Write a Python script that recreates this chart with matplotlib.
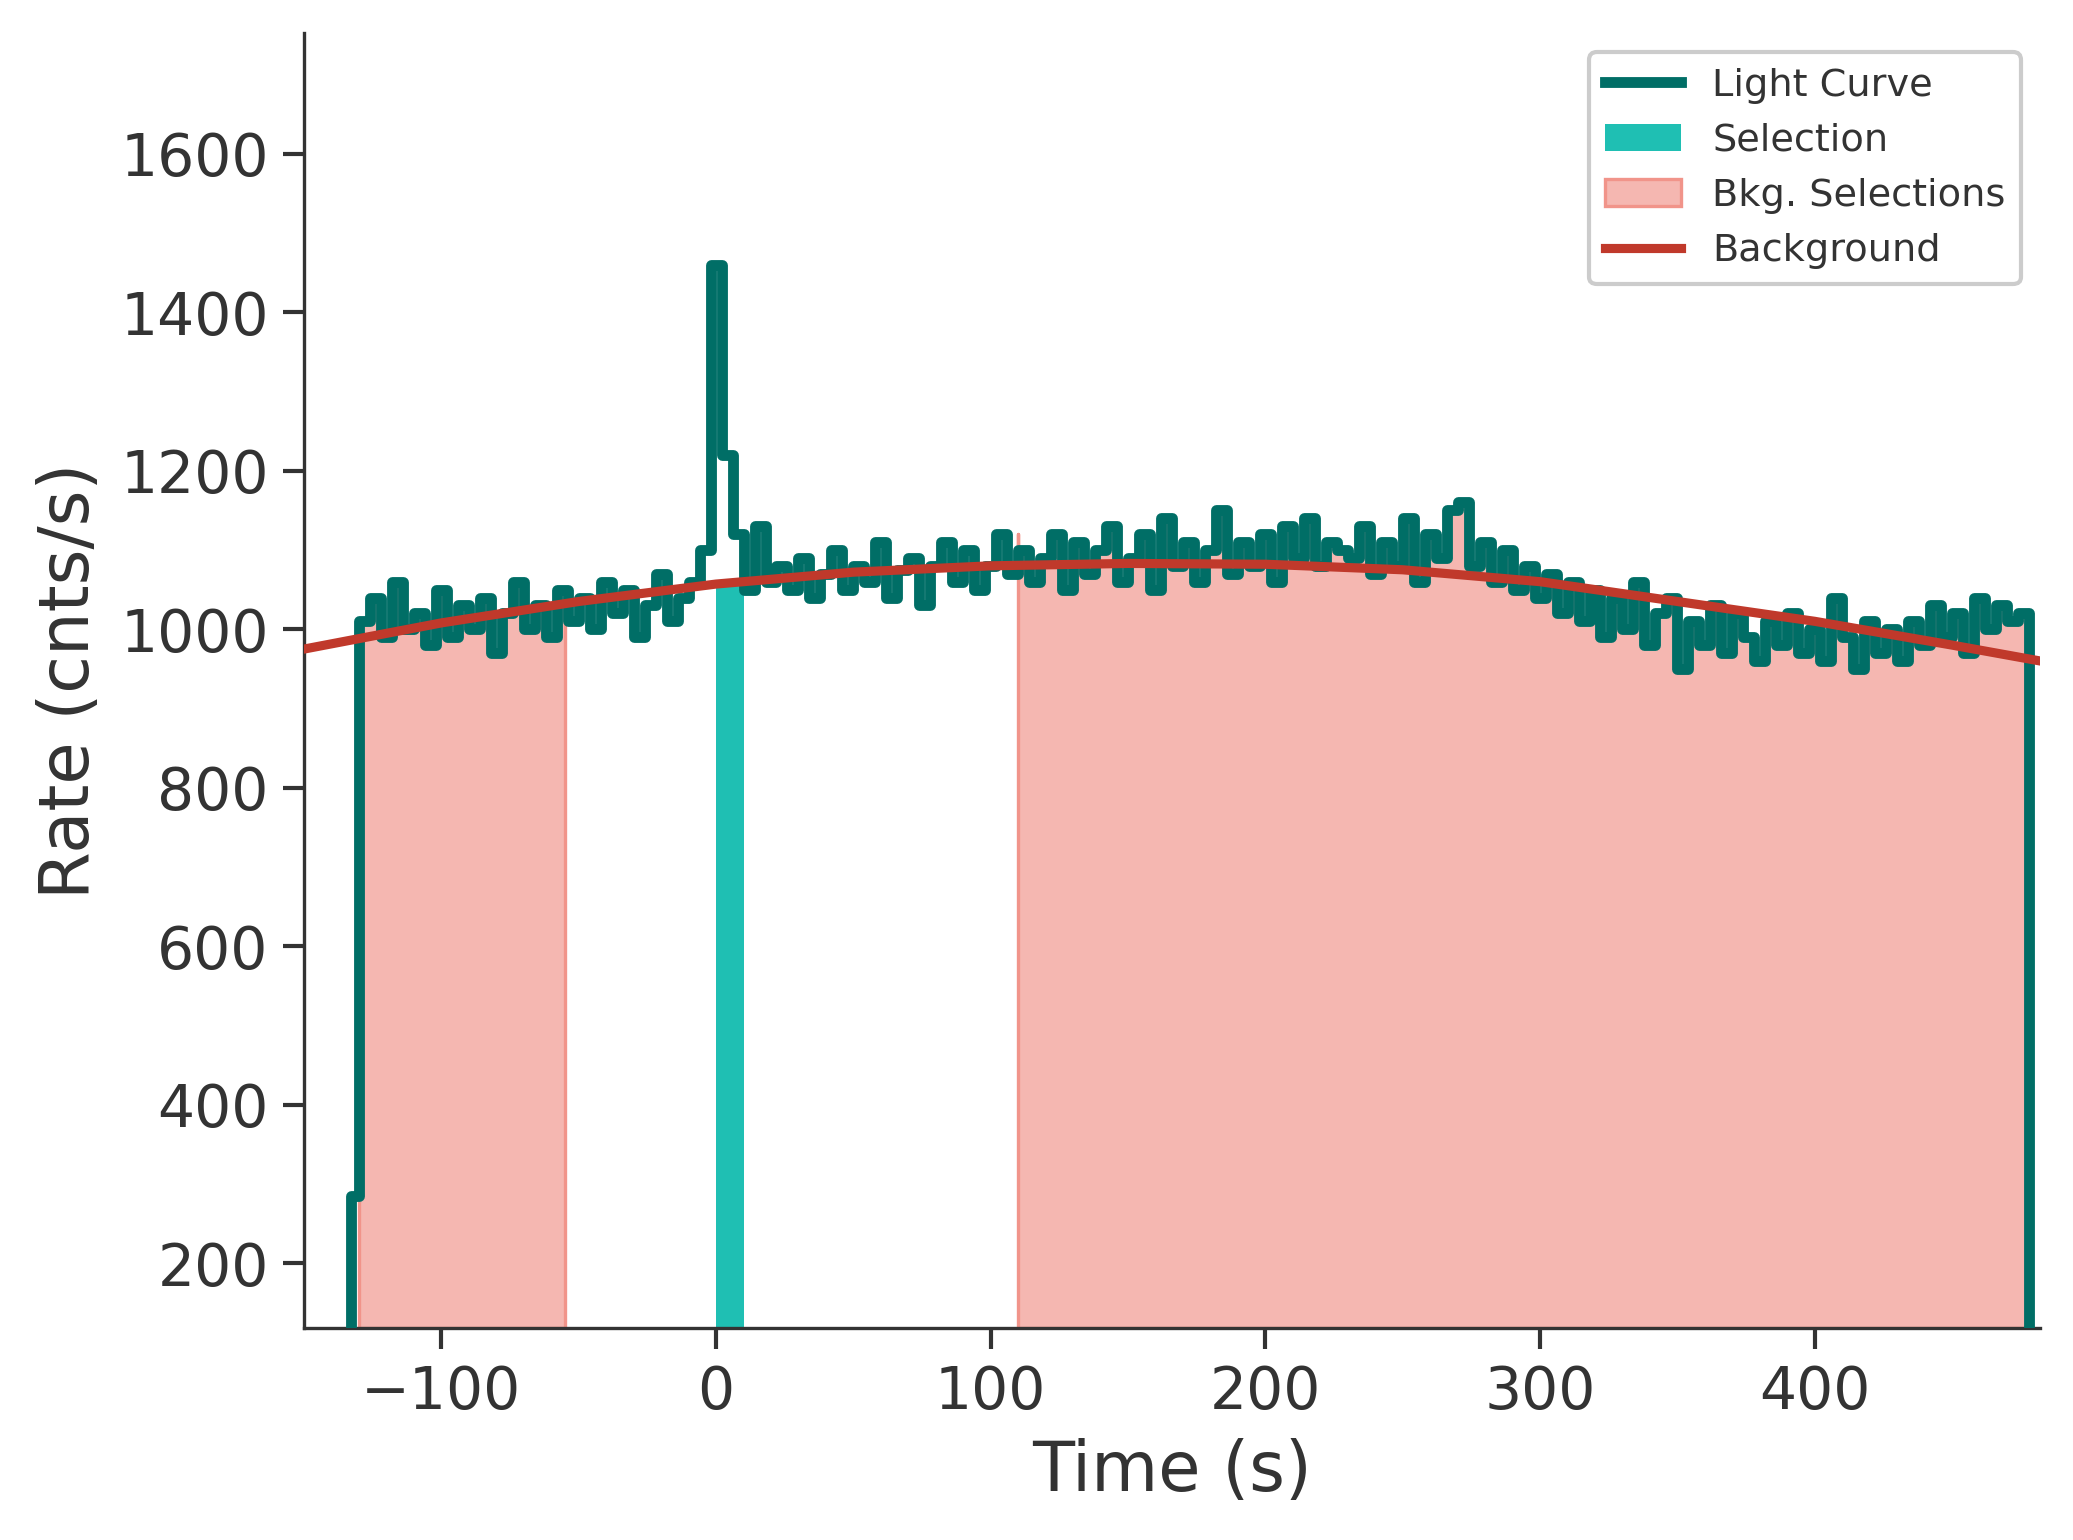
import numpy as np
import matplotlib
matplotlib.use("Agg")
import matplotlib.pyplot as plt

first_edges = [-133]
edges_rest = list(range(-130, 479, 4))
rate = [285,
 1010,1040,990,1060,1000,1020,980,1050,990,1030,
 1000,1040,970,1020,1060,1000,1030,990,1050,1010,
 1040,1000,1060,1020,1050,990,1030,1070,1010,1040,
 1060,1100,1460,1220,1120,1050,1130,1060,1080,1050,
 1090,1040,1070,1100,1050,1080,1060,1110,1040,1075,
 1090,1030,1080,1110,1060,1100,1050,1080,1120,1070,
 1100,1060,1090,1120,1050,1110,1070,1100,1130,1060,
 1090,1120,1050,1140,1080,1110,1060,1100,1150,1070,
 1110,1080,1120,1060,1130,1090,1140,1080,1110,1100,
 1090,1130,1070,1110,1080,1140,1060,1120,1090,1150,
 1160,1080,1110,1060,1100,1050,1080,1040,1070,1020,
 1060,1010,1050,990,1040,1000,1060,980,1020,1040,
 950,1010,980,1030,970,1020,990,960,1010,980,
 1020,970,1000,960,1040,990,950,1010,970,1000,
 960,1010,980,1030,990,1020,970,1040,1000,1030,
 1010,1020]
bkg_t = [-150,-100,-50,0,50,100,150,200,250,300,350,400,450,482]
bkg_r = [975,1008,1035,1057,1072,1080,1083,1082,1075,1060,1035,1010,980,960]
sel = (0, 10)
bkg_sel = [(-130, -55), (110, 478)]

edges = np.array(first_edges + edges_rest, dtype=float)
vals = np.array(rate, dtype=float)
ybot = 118

x = np.repeat(edges, 2)[1:-1]
y = np.repeat(vals, 2)

dark = "#333333"
plt.rcParams.update({"font.family": "DejaVu Sans", "text.color": dark,
                     "axes.labelcolor": dark, "xtick.color": dark, "ytick.color": dark,
                     "axes.edgecolor": dark})
W, H = 1568, 1165
fig = plt.figure(figsize=(2073/300, 1540/300), dpi=300)
ax = fig.add_axes([230/W, 1-1005/H, 1313/W, 980/H])

def region(a, b):
    m = (x >= a - 4) & (x <= b + 4)
    return np.clip(x[m], a, b), y[m]

for i, (a, b) in enumerate(bkg_sel):
    xc, yc = region(a, b)
    ax.fill_between(xc, yc, ybot, color="#f5b7b1", edgecolor="#f1948a", lw=0.8,
                    label="Bkg. Selections" if i == 0 else None, zorder=1)
xc, yc = region(*sel)
ax.fill_between(xc, np.minimum(yc, 1060), ybot, color="#1fbfb3", lw=0, label="Selection", zorder=2)
xl = np.concatenate([[x[0]], x, [x[-1]]])
yl = np.concatenate([[ybot - 50], y, [ybot - 50]])
ax.plot(xl, yl, color="#006e66", lw=2.6, label="Light Curve", zorder=3)
ax.plot(bkg_t, bkg_r, color="#c0392b", lw=2.2, label="Background", zorder=4)

ax.set_xlim(-150, 482)
ax.set_ylim(ybot, 1752)
ax.set_xticks([-100, 0, 100, 200, 300, 400])
ax.set_yticks([200, 400, 600, 800, 1000, 1200, 1400, 1600])
ax.tick_params(labelsize=14, length=5, width=1)
ax.spines["top"].set_visible(False)
ax.spines["right"].set_visible(False)
ax.set_xlabel("Time (s)", fontsize=16.5)
ax.set_ylabel("Rate (cnts/s)", fontsize=16.5)
h, l = ax.get_legend_handles_labels()
order = ["Light Curve", "Selection", "Bkg. Selections", "Background"]
hh = [h[l.index(o)] for o in order]
ax.legend(hh, order, loc="upper right", fontsize=9.2, framealpha=1, edgecolor="#cccccc")
fig.savefig("out.png", dpi=300)
